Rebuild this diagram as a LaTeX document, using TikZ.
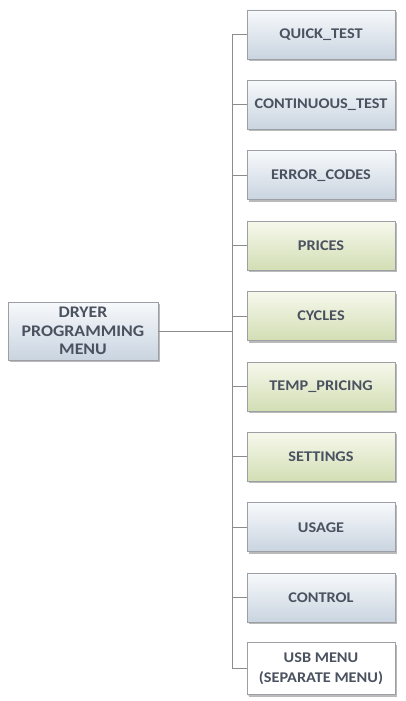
\documentclass[tikz,border=0pt]{standalone}
\usepackage{fontspec}
\setmainfont{Carlito}[FakeStretch=1.1]
\usetikzlibrary{shadows}
\definecolor{txt}{HTML}{4A5260}
\definecolor{edge}{HTML}{9C9FA3}
\definecolor{blueTop}{HTML}{F7F9FB}
\definecolor{blueBot}{HTML}{C9D4E0}
\definecolor{greenTop}{HTML}{F7F8EC}
\definecolor{greenBot}{HTML}{D2DEB4}
\definecolor{wire}{HTML}{8C8C8C}
\tikzset{
  box/.style={draw=edge, line width=0.9pt, minimum width=148pt, minimum height=49pt,
    inner sep=1pt, align=center, text=txt, font=\bfseries\fontsize{14.8}{20}\selectfont,
    drop shadow={shadow xshift=1.5pt, shadow yshift=-2pt, fill=black!45, opacity=0.6}},
  bluebox/.style={box, top color=blueTop, bottom color=blueBot},
  greenbox/.style={box, top color=greenTop, bottom color=greenBot},
  whitebox/.style={box, fill=white, drop shadow={shadow xshift=1pt, shadow yshift=-1.5pt, fill=black!25, opacity=0.5}},
  wireline/.style={draw=wire, line width=0.9pt}
}
\begin{document}
\begin{tikzpicture}[x=1pt,y=-1pt]
\useasboundingbox (0,0) rectangle (406,701);
\node[bluebox, minimum width=150pt, minimum height=58pt, font=\bfseries\fontsize{16.2}{18.5}\selectfont] (root) at (83,331) {DRYER\\PROGRAMMING\\MENU};
\node[bluebox] (b1) at (321,34.5) {QUICK\_TEST};
\node[bluebox] (b2) at (321,104.9) {CONTINUOUS\_TEST};
\node[bluebox] (b3) at (321,175.3) {ERROR\_CODES};
\node[greenbox] (b4) at (321,245.7) {PRICES};
\node[greenbox] (b5) at (321,316.1) {CYCLES};
\node[greenbox] (b6) at (321,386.5) {TEMP\_PRICING};
\node[greenbox] (b7) at (321,456.9) {SETTINGS};
\node[bluebox] (b8) at (321,527.3) {USAGE};
\node[bluebox] (b9) at (321,597.7) {CONTROL};
\node[whitebox, minimum height=52pt] (b10) at (321,668.5) {USB MENU\\(SEPARATE MENU)};
\coordinate (top) at (232,34.5);
\coordinate (bot) at (232,668.5);
\draw[wireline] (b1.west) -- (top) -- (bot) -- (b10.west);
\draw[wireline] (root.east) -- (root.east -| top);
\foreach \i in {2,...,9} {
  \draw[wireline] (b\i.west) -- (b\i.west -| top);
}
\end{tikzpicture}
\end{document}
